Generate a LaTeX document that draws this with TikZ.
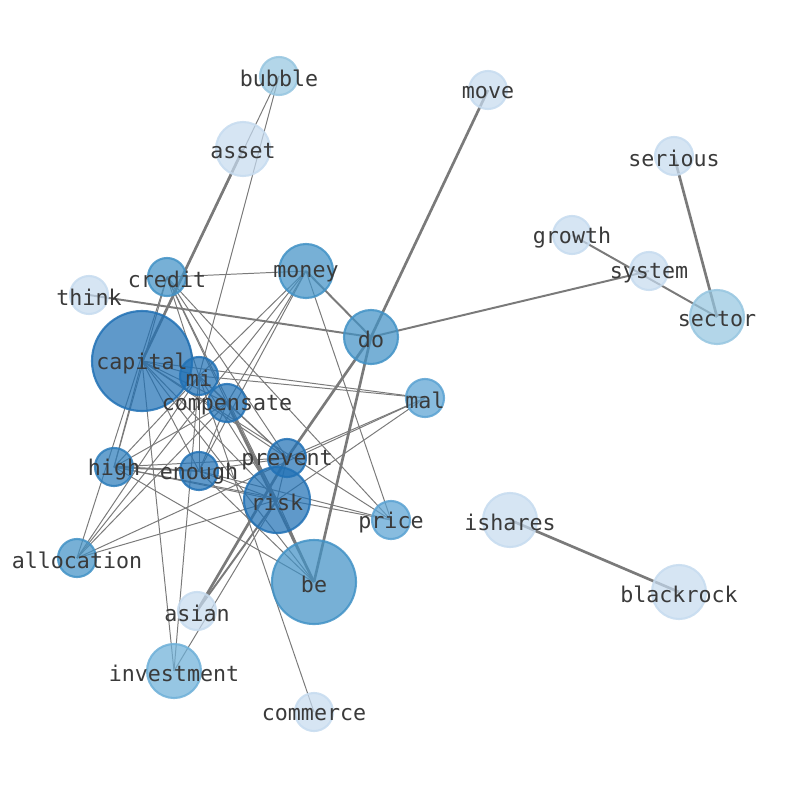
\documentclass[tikz,border=0pt]{standalone}
\usepackage{fontspec}
\setmonofont{DejaVu Sans Mono}
\definecolor{bDark}{RGB}{33,113,181}
\definecolor{bHigh}{RGB}{45,125,187}
\definecolor{bMid}{RGB}{66,146,198}
\definecolor{bSoft}{RGB}{90,162,210}
\definecolor{bInv}{RGB}{110,176,216}
\definecolor{bLight}{RGB}{150,198,224}
\definecolor{bPale}{RGB}{198,219,239}
\definecolor{edgegray}{RGB}{122,122,122}
\definecolor{labelgray}{RGB}{58,58,58}

\begin{document}
\begin{tikzpicture}[x=0.025cm, y=-0.025cm]
    \tikzset{
        every node/.style={font=\ttfamily\fontsize{15.4}{18}\selectfont},
        edge/.style={draw=edgegray, line width=0.7pt},
        midedge/.style={draw=edgegray, line width=1.4pt},
        heavy/.style={draw=edgegray, line width=1.9pt},
        blob/.style={circle, inner sep=0pt, fill opacity=0.72, draw opacity=0.85, line width=1.5pt},
        lbl/.style={text=labelgray, inner sep=0pt, yshift=-1.6pt}
    }
    \useasboundingbox (0,0) rectangle (794,790);

    \foreach \name/\x/\y in {bubble/279/76, move/488/90, asset/243/149, serious/674/156,
        growth/572/235, system/649/271, money/306/271, credit/167/277, think/89/295,
        sector/717/317, do/371/337, capital/142/361, mi/199/376, mal/425/398,
        compensate/227/403, prevent/287/458, high/114/467, enough/199/471, risk/277/500,
        ishares/510/520, price/391/520, allocation/77/558, be/314/582, blackrock/679/592,
        asian/197/611, investment/174/671, commerce/314/712} {
        \coordinate (\name) at (\x,\y);
    }

    % thin links
    \foreach \a/\b in {bubble/mi, bubble/capital, credit/money,
        capital/mi, capital/compensate, capital/enough, capital/prevent, capital/risk,
        capital/be, capital/high, capital/investment, capital/mal, capital/price,
        credit/high, credit/allocation, credit/mi, credit/compensate, credit/prevent,
        credit/price, credit/risk,
        mi/compensate, mi/enough, mi/prevent, mi/risk, mi/money, mi/mal, mi/allocation,
        mi/high, mi/investment, mi/commerce,
        compensate/money, compensate/prevent, compensate/risk, compensate/enough,
        compensate/allocation, compensate/high,
        money/allocation, money/enough, money/price,
        high/prevent, high/risk, high/price, high/be,
        enough/prevent, enough/risk, enough/be, enough/price,
        mal/allocation, mal/prevent, mal/risk,
        risk/allocation, risk/investment, risk/be, prevent/risk} {
        \draw [edge] (\a) -- (\b);
    }
    \foreach \a/\b in {think/do, money/do, do/system, growth/sector, risk/asian, high/enough} {
        \draw [midedge] (\a) -- (\b);
    }
    \foreach \a/\b in {asset/capital, do/move, do/be, serious/sector, ishares/blackrock,
        compensate/be, do/prevent, prevent/asian} {
        \draw [heavy] (\a) -- (\b);
    }

    % words
    \foreach \name/\r/\c in {bubble/19/bLight, move/19/bPale, asset/27/bPale, serious/19/bPale,
        growth/19/bPale, system/19/bPale, money/27/bMid, credit/19/bMid, think/19/bPale,
        sector/27/bLight, do/27/bMid, capital/50/bDark, mi/19/bDark, mal/19/bSoft,
        compensate/19/bDark, prevent/19/bDark, high/19/bHigh, enough/19/bDark, risk/33/bDark,
        ishares/27/bPale, price/19/bSoft, allocation/19/bMid, be/42/bMid, blackrock/27/bPale,
        asian/19/bPale, investment/27/bInv, commerce/19/bPale} {
        \node [blob, minimum size=\r*0.05cm, fill=\c, draw=\c] (n-\name) at (\name) {};
    }
    \foreach \name in {bubble, move, asset, serious, growth, system, money, credit, think,
        sector, do, capital, mi, mal, compensate, prevent, high, enough, risk, ishares,
        price, allocation, be, blackrock, asian, investment, commerce} {
        \node [lbl] (t-\name) at (\name) {\name};
    }

\end{tikzpicture}
\end{document}
